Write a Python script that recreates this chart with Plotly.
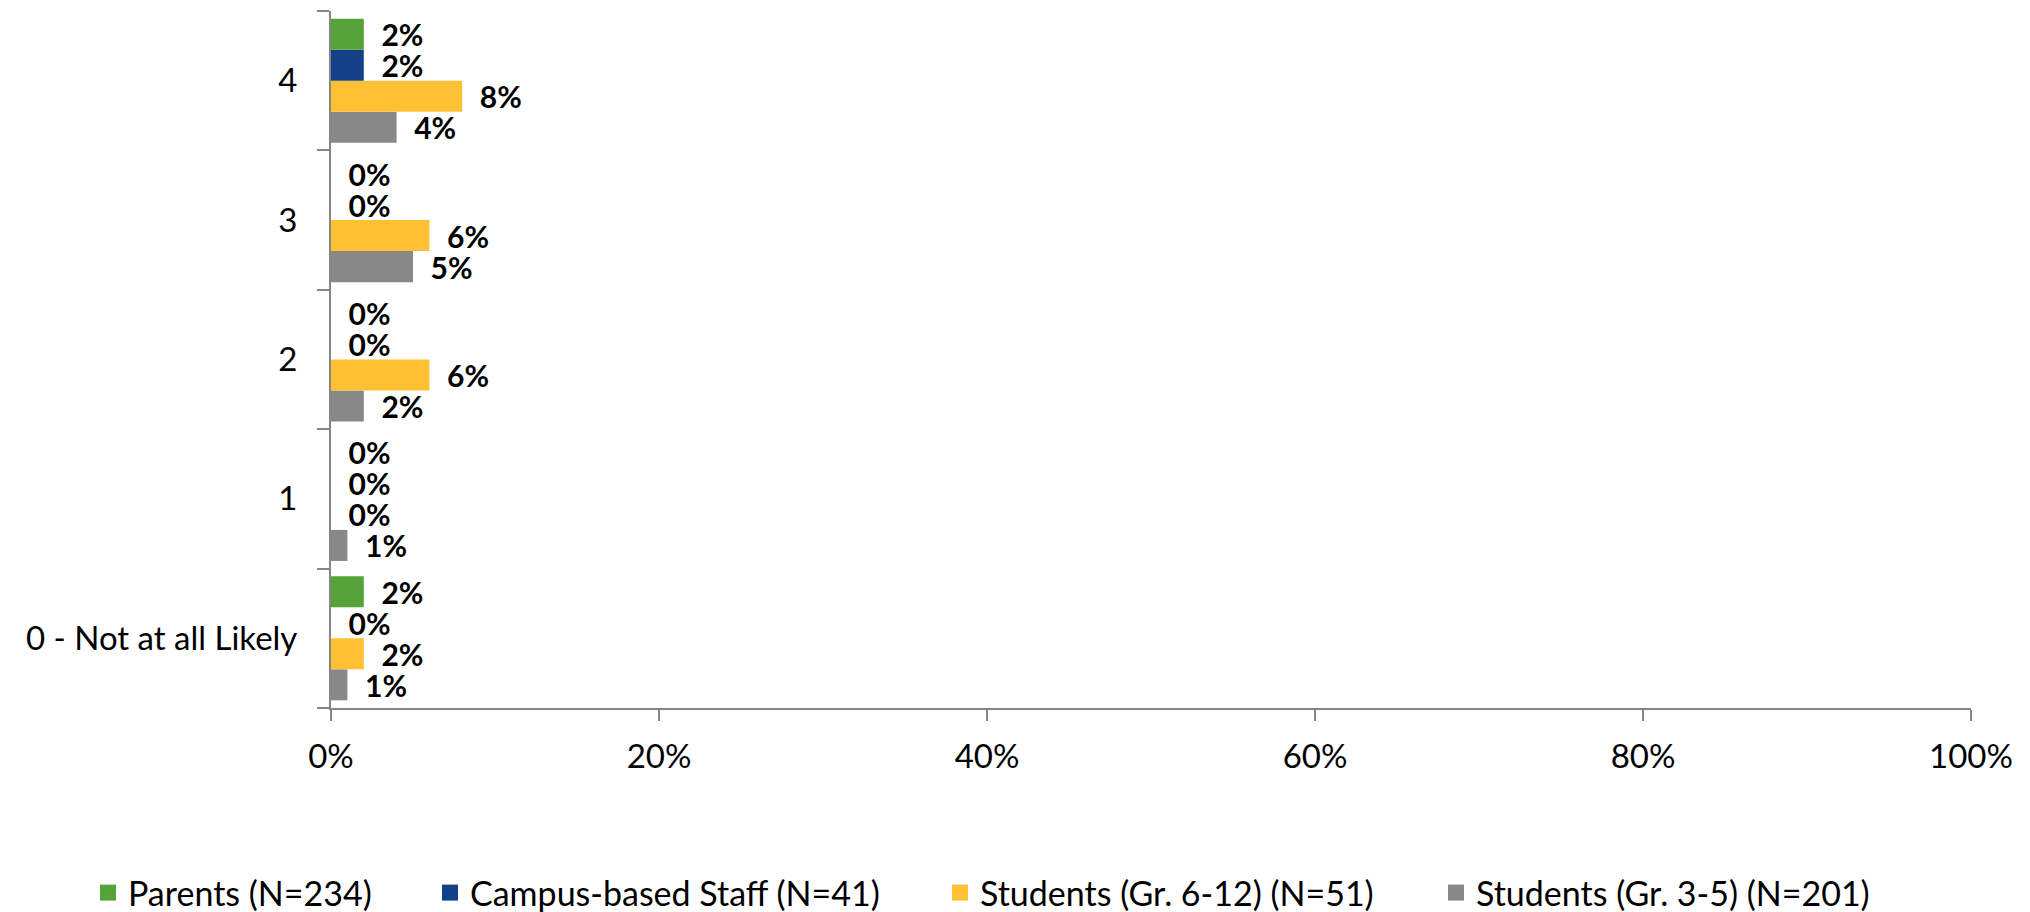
import plotly.graph_objects as go

categories = ["0 - Not at all Likely", "1", "2", "3", "4"]
series_names = ["Parents (N=234)", "Campus-based Staff (N=41)",
                "Students (Gr. 6-12) (N=51)", "Students (Gr. 3-5) (N=201)"]
parents = [2, 0, 0, 0, 2]
staff = [0, 0, 0, 0, 2]
students_6_12 = [2, 0, 6, 6, 8]
students_3_5 = [1, 1, 2, 5, 4]
colors = ["#56A33A", "#124189", "#FFC133", "#888888"]
x_ticks = [0, 20, 40, 60, 80, 100]

values = [parents, staff, students_6_12, students_3_5]

# page is offset by the default 8px body margin; layout values compensate
W, H = 2030, 912
legend_ids = ["legend", "legend2", "legend3", "legend4"]
legend_left_px = [80, 422, 932, 1428]

fig = go.Figure()
# add in reverse so Parents appears at top of each group
for i in reversed(range(4)):
    fig.add_trace(go.Bar(
        y=categories, x=values[i], orientation="h", name=series_names[i],
        marker=dict(color=colors[i], line=dict(width=0)),
        text=[f"{v}%" for v in values[i]],
        texttemplate="\u00a0\u00a0%{text}",
        textposition="outside", constraintext="none", cliponaxis=False,
        textfont=dict(family="Lato", size=30, color="#000000", weight="bold"),
        showlegend=False,
    ))

# legend entries (square swatches)
for i in range(4):
    fig.add_trace(go.Scatter(
        x=[None], y=[None], mode="markers", name=series_names[i],
        marker=dict(symbol="square", size=16, color=colors[i]),
        legend=legend_ids[i], showlegend=True, hoverinfo="skip",
    ))

legend_common = dict(orientation="h", xref="container", xanchor="left",
                     yref="container", y=(H - 885) / H, yanchor="middle",
                     font=dict(family="Lato", size=34, color="#000000"),
                     bgcolor="rgba(0,0,0,0)", borderwidth=0)

fig.update_layout(
    width=W, height=H,
    margin=dict(l=323, r=67, t=3, b=212, autoexpand=False),
    paper_bgcolor="white", plot_bgcolor="white",
    barmode="group", bargap=0.11, bargroupgap=0,
    font=dict(family="Lato", size=33, color="#000000"),
    showlegend=True,
    legend=dict(x=legend_left_px[0] / W, **legend_common),
    legend2=dict(x=legend_left_px[1] / W, **legend_common),
    legend3=dict(x=legend_left_px[2] / W, **legend_common),
    legend4=dict(x=legend_left_px[3] / W, **legend_common),
)
fig.update_xaxes(range=[0, 100], tickvals=x_ticks, ticktext=[f"{t}%" for t in x_ticks],
                 showgrid=False, zeroline=False, showline=True, linecolor="#868686",
                 linewidth=2, ticks="outside", ticklen=11, tickwidth=2, tickcolor="#868686",
                 ticklabelstandoff=7, tickfont=dict(size=33))
fig.update_yaxes(categoryorder="array", categoryarray=categories, showgrid=False,
                 zeroline=False, showline=True, linecolor="#868686", linewidth=2,
                 ticks="outside", ticklen=12, tickwidth=2, tickcolor="#868686",
                 tickson="boundaries", ticklabelstandoff=25, tickfont=dict(size=33))

fig.write_html("out.html")
